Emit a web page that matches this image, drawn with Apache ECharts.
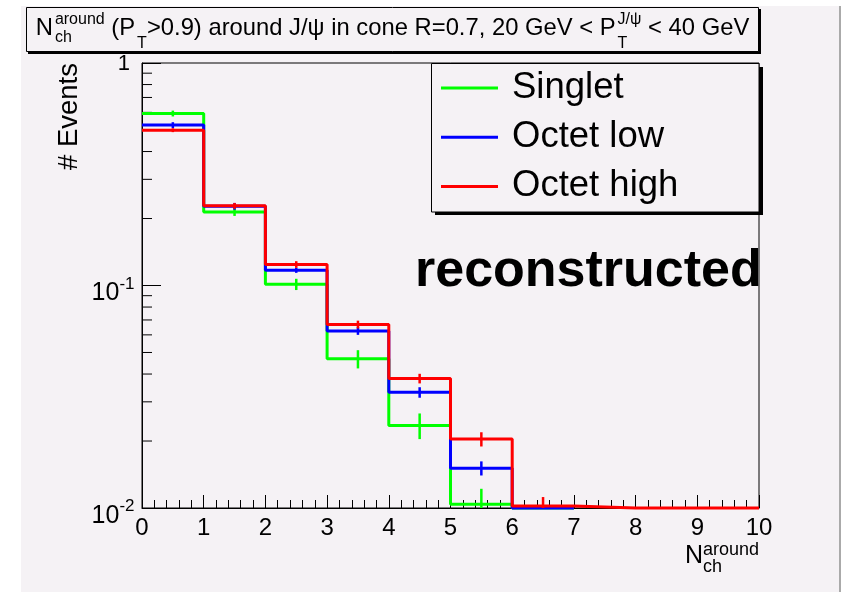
<!DOCTYPE html>
<html>
<head>
<meta charset="utf-8">
<script src="https://cdn.jsdelivr.net/npm/echarts@6/dist/echarts.min.js"></script>
<style>
  html, body { margin: 0; padding: 0; background: #ffffff; }
  #chart { width: 843px; height: 592px; }
</style>
</head>
<body>
<div id="chart"></div>
<script>
// Histogram binning: N_ch^around from 0 to 10, unit-width bins
const binEdges = [0, 1, 2, 3, 4, 5, 6, 7, 8, 9, 10];
const xTickLabels = ['0', '1', '2', '3', '4', '5', '6', '7', '8', '9', '10'];

// Normalised event fractions per bin (0 = empty bin, drawn on the floor of the log axis)
const singlet      = [0.593, 0.214, 0.1013, 0.0468, 0.0235, 0.0104, 0];
const singletErr   = [0.018, 0.0086, 0.0059, 0.0044, 0.0031, 0.0018, 0];
const octetLow     = [0.526, 0.227, 0.117, 0.0625, 0.0331, 0.0151, 0];
const octetLowErr  = [0.016, 0.008, 0.003, 0.0025, 0.0018, 0.0011, 0];
const octetHigh    = [0.499, 0.228, 0.1243, 0.0668, 0.0382, 0.0204, 0.0102, 0, 0, 0];
const octetHighErr = [0.010, 0.007, 0.0043, 0.0027, 0.0019, 0.0015, 0.001, 0, 0, 0];

const seriesNames  = ['Singlet', 'Octet low', 'Octet high'];
const seriesColors = ['#00ff00', '#0000ff', '#ff0000'];

// Log-axis range, decade labels (mantissa, exponent) and the 2..9 minor ticks
const Y_MIN = 0.01, Y_MAX = 1;
const yTickValues = [0.01, 0.1, 1];
const yTickLabels = [['10', '-2'], ['10', '-1'], ['1', '']];
const yMinorTicks = [0.02, 0.03, 0.04, 0.05, 0.06, 0.07, 0.08, 0.09,
                     0.2, 0.3, 0.4, 0.5, 0.6, 0.7, 0.8, 0.9];

const FONT = "'Liberation Sans', Arial, Helvetica, sans-serif";
const BG = '#f5f2f5';
const MID = 0.3465; // baseline -> 'middle' offset, in em

const measureCtx = document.createElement('canvas').getContext('2d');
function textWidth(t, size, weight) {
  measureCtx.font = (weight || 'normal') + ' ' + size + 'px ' + FONT;
  return measureCtx.measureText(t).width;
}

// Step outline of a histogram: one point per lower bin edge plus the final upper edge
function histPoints(vals) {
  const pts = vals.map((v, i) => [binEdges[i], Math.max(v, Y_MIN)]);
  const n = vals.length;
  pts.push([binEdges[n], Math.max(vals[n - 1], Y_MIN)]);
  return pts;
}

function histSeries(name, vals, color, z) {
  return {
    name, type: 'line', step: 'end', data: histPoints(vals),
    showSymbol: false, symbol: 'none', clip: false, z, animation: false,
    lineStyle: { color, width: 3 }, itemStyle: { color }
  };
}

// Vertical error bars at bin centres
function errorSeries(name, vals, errs, color, z) {
  const data = [];
  vals.forEach((v, i) => {
    if (errs[i] > 0) data.push([(binEdges[i] + binEdges[i + 1]) / 2, v, errs[i]]);
  });
  return {
    name, type: 'custom', data, z, animation: false, silent: true,
    encode: { x: 0, y: 1 }, itemStyle: { color },
    renderItem(params, api) {
      const x = api.value(0), v = api.value(1), e = api.value(2);
      const p1 = api.coord([x, Math.min(v + e, Y_MAX)]);
      const p2 = api.coord([x, Math.max(v - e, Y_MIN)]);
      return { type: 'line', shape: { x1: p1[0], y1: p1[1], x2: p2[0], y2: p2[1] },
               style: { stroke: color, lineWidth: 2.5 } };
    }
  };
}

// Minor ticks of the log y axis, drawn inward from the left axis line
const minorTickSeries = {
  type: 'custom', data: yMinorTicks.map(v => [0, v]), silent: true, z: 1,
  encode: { x: 0, y: 1 }, animation: false,
  renderItem(params, api) {
    const p = api.coord([0, api.value(1)]);
    return { type: 'line', shape: { x1: p[0], y1: p[1], x2: p[0] + 10, y2: p[1] },
             style: { stroke: '#000', lineWidth: 1 } };
  }
};

// Decade labels of the y axis with superscript exponents
const yLabelSeries = {
  type: 'custom', data: yTickValues.map((v, i) => [0, v, i]), silent: true, z: 5,
  clip: false, encode: { x: 0, y: 1 }, animation: false,
  renderItem(params, api) {
    const p = api.coord([0, api.value(1)]);
    const lab = yTickLabels[api.value(2)];
    if (!lab[1]) {
      return { type: 'text', x: p[0] - 12, y: p[1] + 1,
               style: { text: lab[0], fontSize: 22, fontFamily: FONT, fill: '#000',
                        align: 'right', verticalAlign: 'middle' } };
    }
    const right = p[0] - 7.5;
    const supLeft = right - textWidth(lab[1], 17);
    return { type: 'group', children: [
      { type: 'text', x: supLeft, y: p[1] + 16.7 - MID * 25,
        style: { text: lab[0], fontSize: 25, fontFamily: FONT, fill: '#000', align: 'right', verticalAlign: 'middle' } },
      { type: 'text', x: supLeft, y: p[1] + 4.7 - MID * 17,
        style: { text: lab[1], fontSize: 17, fontFamily: FONT, fill: '#000', align: 'left', verticalAlign: 'middle' } }
    ] };
  }
};

// Text with sub/superscripts laid out piece by piece
function scriptRow(pieces, x0, baseline, z) {
  const els = [];
  let x = x0;
  pieces.forEach(p => {
    const parts = p.stack || [p];
    let adv = 0;
    const gap = p.gap || 0;
    parts.forEach(q => {
      els.push({
        type: 'text', x: x + gap, y: baseline + (q.dy || 0) - MID * q.s, z,
        style: { text: q.t, fontSize: q.s, fontFamily: FONT, fill: '#000',
                 align: 'left', verticalAlign: 'middle' }
      });
      adv = Math.max(adv, textWidth(q.t, q.s));
    });
    x += gap + adv;
  });
  return els;
}

const titlePieces = [
  { t: 'N', s: 23.8 },
  { gap: 2, stack: [{ t: 'around', s: 16, dy: -12 }, { t: 'ch', s: 16, dy: 6 }] },
  { t: ' (P', s: 23.8 },
  { gap: 2, t: 'T', s: 16, dy: 12 },
  { t: '>0.9) around J/\u03c8 in cone R=0.7, 20 GeV < P', s: 23.8 },
  { gap: 2, stack: [{ t: 'J/\u03c8', s: 16, dy: -12 }, { t: 'T', s: 16, dy: 12 }] },
  { t: ' < 40 GeV', s: 23.8 }
];
const xNamePieces = [
  { t: 'N', s: 25 },
  { stack: [{ t: 'around', s: 18, dy: -9 }, { t: 'ch', s: 18, dy: 8 }] }
];

const graphics = [
  // white page margins around the canvas pad
  { type: 'rect', shape: { x: 0, y: 0, width: 21, height: 592 }, style: { fill: '#fff' }, z: 0 },
  { type: 'rect', shape: { x: 0, y: 0, width: 843, height: 6 }, style: { fill: '#fff' }, z: 0 },
  { type: 'rect', shape: { x: 840, y: 0, width: 3, height: 592 }, style: { fill: '#fff' }, z: 0 },
  { type: 'line', shape: { x1: 840, y1: 6, x2: 840, y2: 592 }, style: { stroke: '#aaaaaa', lineWidth: 2 }, z: 0 },
  // title box with drop shadow
  { type: 'rect', shape: { x: 28, y: 9, width: 733, height: 45 }, style: { fill: '#000' }, z: 10 },
  { type: 'rect', shape: { x: 26.5, y: 7.5, width: 732, height: 44 }, style: { fill: BG, stroke: '#000', lineWidth: 1 }, z: 11 },
  // legend box with drop shadow
  { type: 'rect', shape: { x: 435, y: 67, width: 328, height: 148 }, style: { fill: '#000' }, z: 10 },
  { type: 'rect', shape: { x: 431.5, y: 63.5, width: 327.5, height: 148.5 }, style: { fill: BG, stroke: '#000', lineWidth: 1 }, z: 11 },
  // y axis title
  { type: 'text', x: 69, y: 116.5, rotation: Math.PI / 2, z: 12,
    style: { text: '# Events', fontSize: 27.5, fontFamily: FONT, fill: '#000', align: 'center', verticalAlign: 'middle' } },
  // plot annotation
  { type: 'text', x: 415, y: 290 - MID * 52, z: 12,
    style: { text: 'reconstructed', fontSize: 52, fontWeight: 'bold', fontFamily: FONT, fill: '#000', align: 'left', verticalAlign: 'middle' } }
].concat(scriptRow(titlePieces, 35.7, 37, 12))
 .concat(scriptRow(xNamePieces, 685, 565, 12));

const series = [
  histSeries(seriesNames[0], singlet, seriesColors[0], 2),
  errorSeries(seriesNames[0], singlet, singletErr, seriesColors[0], 2),
  histSeries(seriesNames[1], octetLow, seriesColors[1], 3),
  errorSeries(seriesNames[1], octetLow, octetLowErr, seriesColors[1], 3),
  histSeries(seriesNames[2], octetHigh, seriesColors[2], 4),
  errorSeries(seriesNames[2], octetHigh, octetHighErr, seriesColors[2], 4),
  minorTickSeries,
  yLabelSeries
];

const chart = echarts.init(document.getElementById('chart'), null, { renderer: 'canvas' });
chart.setOption({
  backgroundColor: BG,
  animation: false,
  textStyle: { fontFamily: FONT },
  grid: { left: 142, top: 63, width: 617, height: 445, show: true,
          borderColor: '#000', borderWidth: 1, backgroundColor: 'transparent' },
  xAxis: {
    type: 'value', min: 0, max: 10, interval: 1,
    axisLine: { lineStyle: { color: '#000', width: 1 } },
    axisTick: { inside: true, length: 13, lineStyle: { color: '#000' } },
    minorTick: { show: true, splitNumber: 5, length: 8, lineStyle: { color: '#000' } },
    splitLine: { show: false },
    axisLabel: { color: '#000', fontSize: 24, margin: 8, fontFamily: FONT,
                 formatter: v => xTickLabels[Math.round(v)] }
  },
  yAxis: {
    type: 'log', logBase: 10, min: Y_MIN, max: Y_MAX,
    axisLine: { lineStyle: { color: '#000', width: 1 } },
    axisTick: { inside: true, length: 19, lineStyle: { color: '#000' } },
    splitLine: { show: false },
    axisLabel: { show: false }
  },
  legend: {
    data: seriesNames, orient: 'vertical', left: 441, top: 68, padding: 0, z: 20,
    icon: 'rect', itemWidth: 57, itemHeight: 3, itemGap: 9.2, selectedMode: false,
    textStyle: { fontSize: 36.5, lineHeight: 40, color: '#000', fontFamily: FONT, padding: [0, 0, 0, 9] }
  },
  graphic: graphics,
  series
});
</script>
</body>
</html>
